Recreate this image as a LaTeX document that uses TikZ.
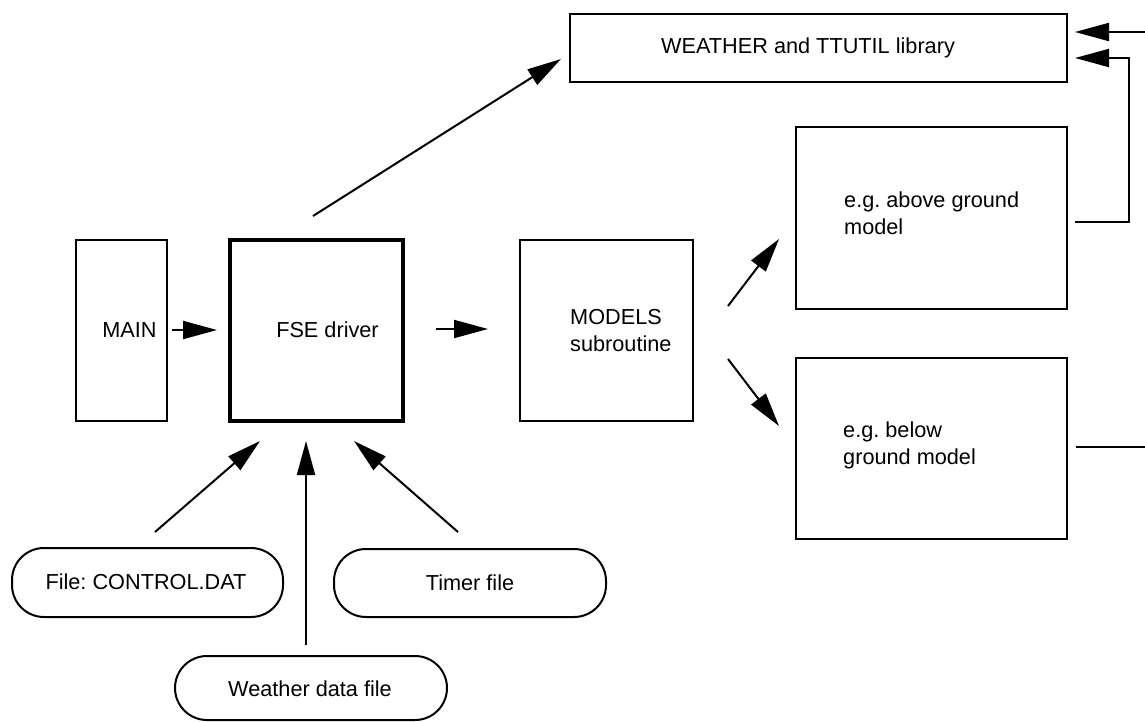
\documentclass[tikz,border=0pt]{standalone}
\usepackage{fontspec}
\setmainfont{Liberation Sans}
\usetikzlibrary{arrows.meta}
\frenchspacing
\begin{document}
\begin{tikzpicture}[x=1pt,y=-1pt,
  box/.style={draw, line width=2pt, rectangle, inner sep=0pt},
  pill/.style={draw, line width=2pt, rectangle, rounded corners=32pt, inner sep=0pt},
  lbl/.style={font=\fontsize{21.7}{27}\selectfont, inner sep=0pt, align=left},
  arr/.style={line width=2pt, -{Triangle[length=34pt,width=18pt]}},
  plain/.style={line width=2pt}]
\useasboundingbox (0,0) rectangle (1145,721);
% boxes
\node[box, minimum width=497pt, minimum height=68pt] (lib) at (818.5,48) {};
\node[box, minimum width=271pt, minimum height=182pt] (above) at (931.5,218) {};
\node[box, minimum width=271pt, minimum height=181pt] (below) at (931.5,448.5) {};
\node[box, minimum width=91pt, minimum height=181pt] (main) at (121.5,330.5) {};
\node[box, line width=4pt, minimum width=173pt, minimum height=181pt] (fse) at (316.5,330.5) {};
\node[box, minimum width=173pt, minimum height=181pt] (models) at (606.5,330.5) {};
\node[pill, minimum width=271pt, minimum height=69pt] (control) at (147.5,582.5) {};
\node[pill, minimum width=272pt, minimum height=68pt] (timer) at (470,583) {};
\node[pill, minimum width=272pt, minimum height=64pt] (weather) at (311,688) {};
% labels
\node[lbl] (libt) at (808,48) {WEATHER and TTUTIL library};
\node[lbl, anchor=west] (abovet) at (844,213) {e.g. above ground\\model};
\node[lbl, anchor=west] (belowt) at (843,445) {e.g. below\\ground model};
\node[lbl] (maint) at (129.5,330) {MAIN};
\node[lbl] (fset) at (327.5,330) {FSE driver};
\node[lbl, anchor=west] (modelst) at (570,331) {MODELS\\subroutine};
\node[lbl] (controlt) at (146,582) {File: CONTROL.DAT};
\node[lbl] (timert) at (470,583) {Timer file};
\node[lbl] (weathert) at (310,689) {Weather data file};
% connector end points
\coordinate (f1) at (313,216);   \coordinate (l1) at (561,59);
\coordinate (m1) at (172,330);   \coordinate (f2) at (217,330);
\coordinate (f3) at (436,329);   \coordinate (s1) at (488,329);
\coordinate (s2) at (728,306);   \coordinate (a1) at (779,239);
\coordinate (s3) at (728,359);   \coordinate (b1) at (779,426);
\coordinate (c1) at (155,532);   \coordinate (f4) at (260,441);
\coordinate (w1) at (306,645);   \coordinate (f5) at (306,441);
\coordinate (t1) at (458,532);   \coordinate (f6) at (354,441);
\coordinate (r1) at (1145,32);   \coordinate (l2) at (1075,32);
\coordinate (a2) at (1075,222);  \coordinate (k1) at (1129,222);
\coordinate (k2) at (1129,58);   \coordinate (l3) at (1075,58);
\coordinate (b2) at (1076,447);  \coordinate (r2) at (1145,447);
% connectors
\draw[arr] (f1) -- (l1);
\draw[arr] (m1) -- (f2);
\draw[arr] (f3) -- (s1);
\draw[arr] (s2) -- (a1);
\draw[arr] (s3) -- (b1);
\draw[arr] (c1) -- (f4);
\draw[arr] (w1) -- (f5);
\draw[arr] (t1) -- (f6);
\draw[arr] (r1) -- (l2);
\draw[arr] (a2) -- (k1) -- (k2) -- (l3);
\draw[plain] (b2) -- (r2);
\end{tikzpicture}
\end{document}
